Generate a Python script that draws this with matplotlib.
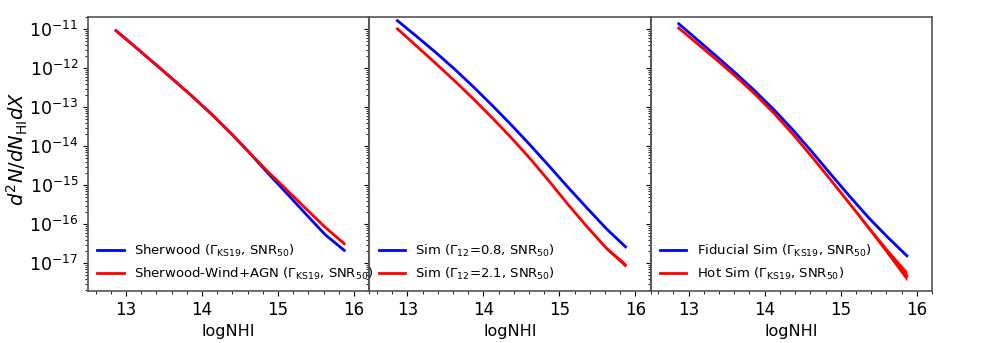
import numpy as np
import matplotlib
matplotlib.use('Agg')
import matplotlib.pyplot as plt
from matplotlib.ticker import MultipleLocator, LogLocator, NullFormatter

# log10(N_HI) bin centres
LOGNHI = [12.87, 13.12, 13.37, 13.62, 13.87, 14.12, 14.37,
          14.62, 14.87, 15.12, 15.37, 15.62, 15.87]

# log10(d2N/dNdX)
SHERWOOD = [-11.04, -11.45, -11.87, -12.29, -12.72, -13.17, -13.65,
            -14.16, -14.70, -15.22, -15.75, -16.27, -16.67]
SHERWOOD_AGN = [-11.04, -11.45, -11.87, -12.29, -12.72, -13.17, -13.65,
                -14.16, -14.66, -15.13, -15.61, -16.08, -16.50]

SIM_G08 = [-10.78, -11.18, -11.59, -12.02, -12.48, -12.96, -13.46,
           -13.98, -14.52, -15.07, -15.60, -16.12, -16.58]
SIM_G21 = [-10.99, -11.43, -11.87, -12.32, -12.79, -13.28, -13.79,
           -14.33, -14.91, -15.51, -16.08, -16.62, -17.05]

FIDUCIAL = [-10.86, -11.28, -11.70, -12.13, -12.58, -13.06, -13.58,
            -14.14, -14.72, -15.29, -15.84, -16.34, -16.81]
HOT = [-10.97, -11.38, -11.79, -12.21, -12.66, -13.15, -13.69,
       -14.27, -14.87, -15.48, -16.10, -16.72, -17.33]

# half width of the error band (dex)
ERR_BLUE = [0.0, 0.0, 0.0, 0.0, 0.0, 0.0, 0.0,
            0.0, 0.0, 0.005, 0.01, 0.02, 0.03]
ERR_RED = [0.0, 0.0, 0.0, 0.0, 0.0, 0.0, 0.005,
           0.01, 0.01, 0.02, 0.03, 0.04, 0.06]
ERR_HOT = [0.0, 0.0, 0.0, 0.0, 0.0, 0.0, 0.01,
           0.01, 0.02, 0.03, 0.05, 0.08, 0.13]

LABELS = [
    (r'Sherwood ($\Gamma_{\rm KS19}$, SNR$_{50}$)',
     r'Sherwood-Wind+AGN ($\Gamma_{\rm KS19}$, SNR$_{50}$)'),
    (r'Sim ($\Gamma_{12}$=0.8, SNR$_{50}$)',
     r'Sim ($\Gamma_{12}$=2.1, SNR$_{50}$)'),
    (r'Fiducial Sim ($\Gamma_{\rm KS19}$, SNR$_{50}$)',
     r'Hot Sim ($\Gamma_{\rm KS19}$, SNR$_{50}$)'),
]
PANELS = [(SHERWOOD, SHERWOOD_AGN, ERR_BLUE, ERR_BLUE),
          (SIM_G08, SIM_G21, ERR_BLUE, ERR_RED),
          (FIDUCIAL, HOT, ERR_BLUE, ERR_HOT)]


def draw_curve(ax, x, logy, err, color, label):
    logy = np.array(logy)
    err = np.array(err)
    ax.fill_between(x, 10**(logy - err), 10**(logy + err), color=color, lw=0)
    ax.plot(x, 10**logy, color=color, lw=2, label=label)


def main():
    fig, axes = plt.subplots(1, 3, figsize=(9.81, 3.43), dpi=100, sharey=True)
    fig.subplots_adjust(left=0.0897, right=0.950, top=0.950, bottom=0.152, wspace=0)

    for i, (ax, (blue, red, eb, er), (lb, lr)) in enumerate(zip(axes, PANELS, LABELS)):
        ax.set_facecolor('none')
        ax.set_zorder(3 - i)
        draw_curve(ax, LOGNHI, blue, eb, 'blue', lb)
        draw_curve(ax, LOGNHI, red, er, 'red', lr)
        ax.set_yscale('log')
        ax.set_xlim(12.5, 16.2)
        ax.set_ylim(10**-17.71, 10**-10.69)
        ax.set_yticks(10.0**np.arange(-17, -10))
        ax.xaxis.set_major_locator(MultipleLocator(1))
        ax.xaxis.set_minor_locator(MultipleLocator(0.2))
        ax.yaxis.set_minor_locator(LogLocator(base=10, subs=np.arange(2, 10), numticks=20))
        ax.yaxis.set_minor_formatter(NullFormatter())
        ax.tick_params(axis='x', which='major', labelsize=12)
        ax.tick_params(axis='y', which='major', labelsize=12.5)
        for s in ax.spines.values():
            s.set_color('#555555')
            s.set_linewidth(1.2)
        ax.set_xlabel('logNHI', fontsize=11.5)
        ax.legend(loc='lower left', frameon=False, fontsize=9.5,
                  handlelength=2.0, borderaxespad=0.3)

    axes[0].set_ylabel(r'$d^2N/dN_{\rm HI}dX$', fontsize=14)
    axes[0].yaxis.set_label_coords(-0.205, 0.52)
    fig.savefig('out.png', dpi=100)


if __name__ == '__main__':
    main()
